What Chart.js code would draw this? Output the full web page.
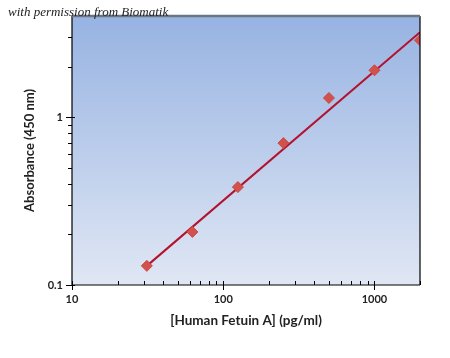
<!DOCTYPE html>
<html>
<head>
<meta charset="utf-8">
<script src="https://cdn.jsdelivr.net/npm/chart.js@4/dist/chart.umd.min.js"></script>
<style>
  html, body { margin: 0; padding: 0; background: #fff; }
  #wrap { position: relative; width: 450px; height: 358px; }
  #note { position: absolute; left: 8px; top: 4px; font-family: "Liberation Serif", serif; font-style: italic; font-size: 13px; color: #222; white-space: nowrap; z-index: 2; }
</style>
</head>
<body>
<div id="wrap">
  <canvas id="c" width="450" height="358"></canvas>
  <div id="note">with permission from Biomatik</div>
</div>
<script>
// Data
const concentrations = [31.25, 62.5, 125, 250, 500, 1000, 2000];
const absorbance = [0.13, 0.207, 0.383, 0.70, 1.30, 1.90, 2.87];
const fitX = [31.25, 2000];
const fitY = [0.13, 3.2];
const xTickValues = [10, 100, 1000];
const yTickValues = [0.1, 1];
const xMinorTicks = [20, 30, 40, 50, 60, 70, 80, 90, 200, 300, 400, 500, 600, 700, 800, 900, 2000];
const yMinorTicks = [0.2, 0.3, 0.4, 0.5, 0.6, 0.7, 0.8, 0.9, 2, 3];

const pad = { left: 22, right: 30, top: 16, bottom: 29 };

const bgPlugin = {
  id: 'bg',
  beforeDraw(chart) {
    const { ctx, chartArea: a } = chart;
    const g = ctx.createLinearGradient(0, a.top, 0, a.bottom);
    g.addColorStop(0, '#97b3e2');
    g.addColorStop(1, '#e0e7f4');
    ctx.save();
    ctx.fillStyle = g;
    ctx.fillRect(a.left, a.top, a.right - a.left, a.bottom - a.top);
    ctx.restore();
  },
  afterDraw(chart) {
    const { ctx, chartArea: a, scales } = chart;
    ctx.save();
    ctx.strokeStyle = '#000';
    ctx.lineWidth = 1.2;
    ctx.beginPath();
    ctx.moveTo(a.right, a.top); ctx.lineTo(a.right, a.bottom);
    ctx.moveTo(a.left, a.top); ctx.lineTo(a.left, a.bottom);
    ctx.lineTo(a.right, a.bottom);
    ctx.stroke();
    ctx.strokeStyle = '#6c7584';
    ctx.lineWidth = 2.5;
    ctx.beginPath();
    ctx.moveTo(a.left, a.top); ctx.lineTo(a.right, a.top);
    ctx.stroke();
    ctx.strokeStyle = '#000';
    ctx.lineWidth = 1;
    ctx.beginPath();
    yTickValues.forEach(v => {
      const y = Math.round(scales.y.getPixelForValue(v)) + 0.5;
      ctx.moveTo(a.left - 6, y); ctx.lineTo(a.left + 3, y);
    });
    yMinorTicks.forEach(v => {
      const y = Math.round(scales.y.getPixelForValue(v)) + 0.5;
      ctx.moveTo(a.left - 4, y); ctx.lineTo(a.left, y);
    });
    xTickValues.forEach(v => {
      const x = Math.round(scales.x.getPixelForValue(v)) + 0.5;
      ctx.moveTo(x, a.bottom + 5); ctx.lineTo(x, a.bottom - 4);
    });
    xMinorTicks.forEach(v => {
      const x = Math.round(scales.x.getPixelForValue(v)) + 0.5;
      ctx.moveTo(x, a.bottom); ctx.lineTo(x, a.bottom - 4);
    });
    ctx.stroke();
    ctx.restore();
  }
};

const fontFam = 'Lato, "Open Sans", sans-serif';

new Chart(document.getElementById('c'), {
  type: 'scatter',
  data: {
    datasets: [
      {
        type: 'line',
        data: fitX.map((x, i) => ({ x: x, y: fitY[i] })),
        borderColor: '#b3122e',
        borderWidth: 2,
        pointRadius: 0,
        fill: false,
        order: 1
      },
      {
        data: concentrations.map((x, i) => ({ x: x, y: absorbance[i] })),
        pointStyle: 'rectRot',
        pointRadius: 5.5,
        backgroundColor: '#d2514c',
        borderColor: '#c9473f',
        borderWidth: 1,
        order: 0
      }
    ]
  },
  options: {
    responsive: false,
    animation: false,
    layout: { padding: pad },
    plugins: { legend: { display: false }, tooltip: { enabled: false } },
    scales: {
      x: {
        type: 'logarithmic',
        min: 10, max: 2000,
        grid: { display: false, drawTicks: false },
        border: { display: false },
        afterBuildTicks(s) { s.ticks = xTickValues.map(v => ({ value: v })); },
        afterFit(s) { s.height = 358 - 285 - pad.bottom; },
        ticks: {
          padding: 8,
          color: '#222',
          font: { family: fontFam, size: 11, weight: 'bold' },
          callback: v => String(v)
        },
        title: {
          display: true,
          text: '[Human Fetuin A] (pg/ml)',
          color: '#222',
          font: { family: fontFam, size: 13.5, weight: 'bold' },
          padding: { top: 0, bottom: 0 }
        }
      },
      y: {
        type: 'logarithmic',
        min: 0.1, max: 4,
        grid: { display: false, drawTicks: false },
        border: { display: false },
        afterBuildTicks(s) { s.ticks = yTickValues.map(v => ({ value: v })); },
        afterFit(s) { s.width = 72 - pad.left; },
        ticks: {
          padding: 9,
          color: '#222',
          font: { family: fontFam, size: 11, weight: 'bold' },
          callback: v => String(v)
        },
        title: {
          display: true,
          text: 'Absorbance (450 nm)',
          color: '#222',
          font: { family: fontFam, size: 13, weight: 'bold' },
          padding: { top: 0, bottom: 0 }
        }
      }
    }
  },
  plugins: [bgPlugin]
});
</script>
</body>
</html>
